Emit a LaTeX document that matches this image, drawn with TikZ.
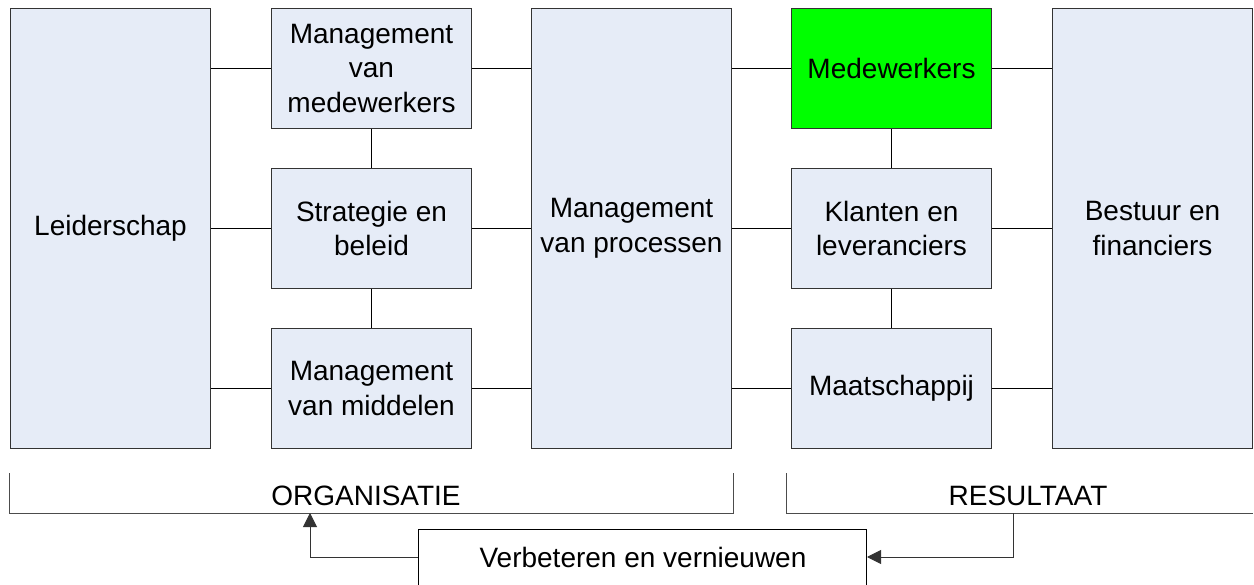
\documentclass[tikz,border=0pt]{standalone}
\usepackage{fontspec}
\setmainfont{Liberation Sans}
\usetikzlibrary{arrows.meta}
\definecolor{boxfill}{HTML}{E6ECF7}
\definecolor{boxgreen}{HTML}{00FF00}
\begin{document}
\begin{tikzpicture}[x=1pt,y=-1pt,
  box/.style={draw=black!80, line width=1pt, fill=boxfill, anchor=north west, inner sep=0pt,
    minimum width=200pt, align=center, font=\fontsize{28}{34.5}\selectfont},
  tall/.style={box, minimum height=440pt},
  small/.style={box, minimum height=120pt},
  conn/.style={draw=black, line width=1pt},
  brk/.style={draw=black!70, line width=1pt},
  lbl/.style={inner sep=0pt, font=\fontsize{28}{32}\selectfont},
  arr/.style={draw=black!80, line width=1pt, -{Triangle[length=14pt,width=14pt]}}]
\useasboundingbox (0,0) rectangle (1254,585);
\node[tall] (lead) at (10,8) {Leiderschap};
\node[small] (mvm) at (271,8) {Management\\van\\medewerkers};
\node[small] (strat) at (271,168) {Strategie en\\beleid};
\node[small] (mid) at (271,328) {Management\\van middelen};
\node[tall] (proc) at (531,8) {Management\\van processen};
\node[small, fill=boxgreen] (med) at (791,8) {Medewerkers};
\node[small] (klant) at (791,168) {Klanten en\\leveranciers};
\node[small] (maat) at (791,328) {Maatschappij};
\node[tall] (best) at (1052,8) {Bestuur en\\financiers};
% connectors
\foreach \n in {mvm,strat,mid}{
  \draw[conn] (lead.east |- \n) -- (\n.west);
  \draw[conn] (\n.east) -- (proc.west |- \n);
}
\foreach \n in {med,klant,maat}{
  \draw[conn] (proc.east |- \n) -- (\n.west);
  \draw[conn] (\n.east) -- (best.west |- \n);
}
\draw[conn] (mvm.south) -- (strat.north);
\draw[conn] (strat.south) -- (mid.north);
\draw[conn] (med.south) -- (klant.north);
\draw[conn] (klant.south) -- (maat.north);
% brackets
\coordinate (ob1) at (9.5,473);
\coordinate (ob2) at (9.5,513);
\coordinate (ob3) at (733,513);
\coordinate (ob4) at (733,473);
\coordinate (rb1) at (786,473);
\coordinate (rb2) at (786,513);
\coordinate (rb3) at (1253,513);
\draw[brk] (ob1) -- (ob2) -- (ob3) -- (ob4);
\draw[brk] (rb1) -- (rb2) -- (rb3);
\node[lbl] (org) at (366,496) {ORGANISATIE};
\node[lbl] (res) at (1028,496) {RESULTAAT};
% improvement box
\node[draw=black, line width=1pt, fill=white, anchor=north west, minimum width=448pt, minimum height=80pt, inner sep=0pt] (verb) at (418,529) {};
\node[lbl] (verbt) at (643,557) {Verbeteren en vernieuwen};
\coordinate (rdown) at (1013,513);
\coordinate (oup) at (310,513);
\draw[arr] (rdown) |- (verb.east |- verbt);
\draw[arr] (verb.west |- verbt) -| (oup);
\end{tikzpicture}
\end{document}
